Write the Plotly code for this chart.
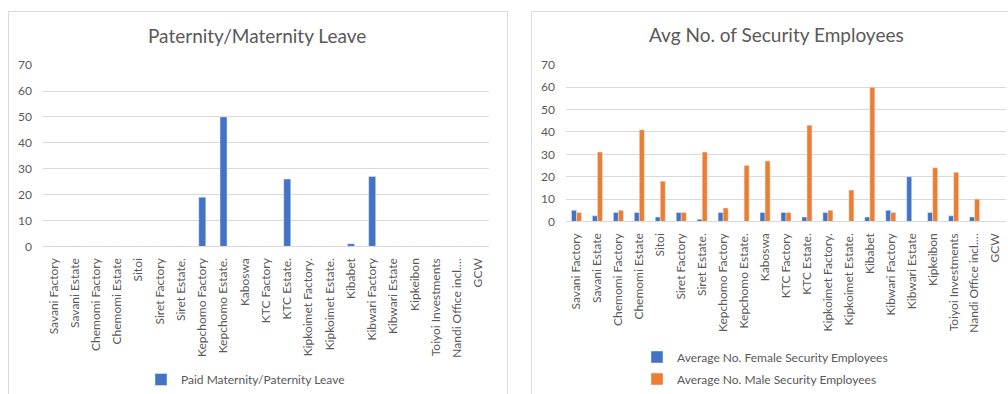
import plotly.graph_objects as go

W, H = 1008, 394

categories = ["Savani Factory", "Savani Estate", "Chemomi Factory", "Chemomi Estate", "Sitoi",
              "Siret Factory", "Siret Estate.", "Kepchomo Factory", "Kepchomo Estate.", "Kaboswa",
              "KTC Factory", "KTC Estate.", "Kipkoimet Factory.", "Kipkoimet Estate.", "Kibabet",
              "Kibwari Factory", "Kibwari Estate", "Kipkeibon", "Toiyoi Investments",
              "Nandi Office incl.…", "GCW"]

paid_leave = [0, 0, 0, 0, 0, 0, 0, 19, 50, 0, 0, 26, 0, 0, 1, 27, 0, 0, 0, 0, 0]

female_security = [5, 2.5, 4, 4, 2, 4, 1, 4, 0, 4, 4, 2, 4, 0, 2, 5, 20, 4, 2.5, 2, 0]
male_security = [4, 31, 5, 41, 18, 4, 31, 6, 25, 27, 4, 43, 5, 14, 60, 4, 0, 24, 22, 10, 0]

y_ticks = [0, 10, 20, 30, 40, 50, 60, 70]

BLUE = "#4472C4"
ORANGE = "#ED7D31"
TXT = "#595959"
GRID = "#d9d9d9"
FONT = "Lato, Open Sans, sans-serif"


def px(x):
    return x / W


def py(y):
    return 1 - y / H


fig = go.Figure()

fig.add_trace(go.Bar(x=categories, y=paid_leave, name="Paid Maternity/Paternity Leave",
                     marker_color=BLUE, width=0.33, xaxis="x", yaxis="y", legend="legend"))
fig.add_trace(go.Bar(x=categories, y=female_security, name="Average No. Female Security Employees",
                     marker_color=BLUE, width=0.24, offset=-0.24, xaxis="x2", yaxis="y2",
                     legend="legend2", legendgroup="f"))
fig.add_trace(go.Bar(x=categories, y=male_security, name="Average No. Male Security Employees",
                     marker_color=ORANGE, width=0.24, offset=0.0, xaxis="x2", yaxis="y2",
                     legend="legend2", legendgroup="m"))

xcommon = dict(type="category", tickangle=-90, showgrid=False, showline=True, linecolor=GRID,
               linewidth=1, ticks="", tickfont=dict(family=FONT, size=12, color=TXT),
               automargin=False, fixedrange=True, ticklabelstandoff=6)
ycommon = dict(range=[0, 70], tickvals=y_ticks, showgrid=True, gridcolor=GRID, gridwidth=1,
               zeroline=False, showline=False, ticks="",
               tickfont=dict(family=FONT, size=12, color=TXT), automargin=False, fixedrange=True)

fig.update_layout(
    width=W, height=H, margin=dict(l=0, r=0, t=0, b=0),
    paper_bgcolor="white", plot_bgcolor="white",
    barmode="overlay",
    xaxis=dict(domain=[px(43), px(489)], anchor="y", **xcommon),
    yaxis=dict(domain=[py(247), py(65.3)], anchor="x", ticklabelstandoff=10, **ycommon),
    xaxis2=dict(domain=[px(566), px(1006)], anchor="y2", **xcommon),
    yaxis2=dict(domain=[py(222), py(65)], anchor="x2", ticklabelstandoff=10, **ycommon),
    legend=dict(x=px(141), y=py(380), xanchor="left", yanchor="middle", orientation="h",
                font=dict(family=FONT, size=12, color=TXT), bgcolor="rgba(0,0,0,0)",
                itemwidth=30, tracegroupgap=0),
    legend2=dict(x=px(637), y=py(368), xanchor="left", yanchor="middle", orientation="v",
                 font=dict(family=FONT, size=12, color=TXT), bgcolor="rgba(0,0,0,0)",
                 itemwidth=30, tracegroupgap=3),
    showlegend=True,
    annotations=[
        dict(text="Paternity/Maternity Leave", x=px(257), y=py(36), xref="paper", yref="paper",
             showarrow=False, font=dict(family=FONT, size=19, color=TXT), xanchor="center", yanchor="middle"),
        dict(text="Avg No. of Security Employees", x=px(776), y=py(35), xref="paper", yref="paper",
             showarrow=False, font=dict(family=FONT, size=19, color=TXT), xanchor="center", yanchor="middle"),
    ],
    shapes=[
        dict(type="rect", xref="paper", yref="paper", x0=px(8.5), x1=px(507.5), y0=py(400), y1=py(11.5),
             line=dict(color=GRID, width=1), fillcolor="rgba(0,0,0,0)", layer="below"),
        dict(type="rect", xref="paper", yref="paper", x0=px(531.5), x1=px(1015), y0=py(400), y1=py(11.5),
             line=dict(color=GRID, width=1), fillcolor="rgba(0,0,0,0)", layer="below"),
    ],
)

fig.write_html("out.html")
